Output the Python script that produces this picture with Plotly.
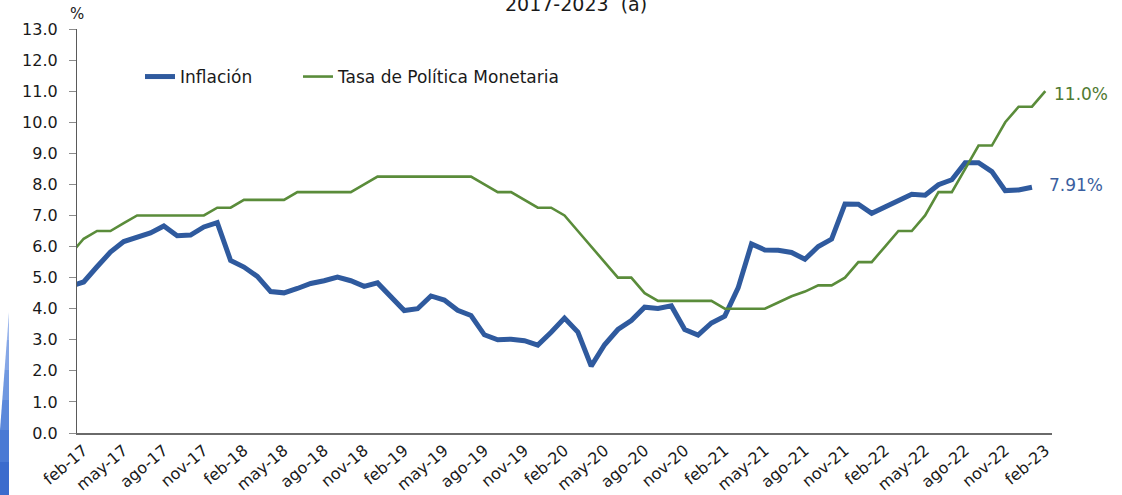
import plotly.graph_objects as go

# ---------------- data ----------------
meses = ["ene", "feb", "mar", "abr", "may", "jun", "jul", "ago", "sep", "oct", "nov", "dic"]
months = [f"{m}-{y}" for y in range(17, 24) for m in meses][:74]   # ene-17 .. feb-23

inflacion = [
    4.72, 4.86, 5.35, 5.82, 6.16, 6.31, 6.44, 6.66, 6.35, 6.37, 6.63, 6.77,
    5.55, 5.34, 5.04, 4.55, 4.51, 4.65, 4.81, 4.90, 5.02, 4.90, 4.72, 4.83,
    4.37, 3.94, 4.00, 4.41, 4.28, 3.95, 3.78, 3.16, 3.00, 3.02, 2.97, 2.83,
    3.24, 3.70, 3.25, 2.15, 2.84, 3.33, 3.62, 4.05, 4.01, 4.09, 3.33, 3.15,
    3.54, 3.76, 4.67, 6.08, 5.89, 5.88, 5.81, 5.59, 6.00, 6.24, 7.37, 7.36,
    7.07, 7.28, 7.45, 7.68, 7.65, 7.99, 8.15, 8.70, 8.70, 8.41, 7.80, 7.82,
    7.91,
]
tpm = [
    5.75, 6.25, 6.50, 6.50, 6.75, 7.00, 7.00, 7.00, 7.00, 7.00, 7.00, 7.25,
    7.25, 7.50, 7.50, 7.50, 7.50, 7.75, 7.75, 7.75, 7.75, 7.75, 8.00, 8.25,
    8.25, 8.25, 8.25, 8.25, 8.25, 8.25, 8.25, 8.00, 7.75, 7.75, 7.50, 7.25,
    7.25, 7.00, 6.50, 6.00, 5.50, 5.00, 5.00, 4.50, 4.25, 4.25, 4.25, 4.25,
    4.25, 4.00, 4.00, 4.00, 4.00, 4.20, 4.40, 4.55, 4.75, 4.75, 5.00, 5.50,
    5.50, 6.00, 6.50, 6.50, 7.00, 7.75, 7.75, 8.50, 9.25, 9.25, 10.00, 10.50,
    10.50, 11.00,
]
tick_labels = months[1::3]          # feb-17, may-17, ... feb-23
y_ticks = [float(v) for v in range(0, 14)]

series_names = ["Inflación", "Tasa de Política Monetaria"]
end_labels = ["7.91%", "11.0%"]

# ---------------- style ----------------
BLUE = "#2F5A9E"
GREEN = "#5A8C3A"
FONT = "DejaVu Sans"
W, H = 1122, 495
ML, MR, MT, MB = 77, 70, 29, 62
PW, PH = W - ML - MR, H - MT - MB


def px2paper(px, py):
    return (px - ML) / PW, (H - MB - py) / PH


fig = go.Figure()
fig.add_trace(go.Scatter(
    x=months[:len(inflacion)], y=inflacion, mode="lines", name=series_names[0],
    line=dict(color=BLUE, width=5), legend="legend",
))
fig.add_trace(go.Scatter(
    x=months[:len(tpm)], y=tpm, mode="lines", name=series_names[1],
    line=dict(color=GREEN, width=2.6), legend="legend2",
))

# end-of-series labels
fig.add_annotation(x=months[len(tpm) - 1], y=tpm[-1], text=end_labels[1],
                   showarrow=False, xanchor="left", xshift=7, yshift=-3,
                   font=dict(family=FONT, size=17, color="#4F7A32"))
fig.add_annotation(x=months[len(inflacion) - 1], y=inflacion[-1], text=end_labels[0],
                   showarrow=False, xanchor="left", xshift=15, yshift=2,
                   font=dict(family=FONT, size=17, color="#3A5FA0"))

# "%" unit label and (cropped) title
px_, py_ = px2paper(77, 14)
fig.add_annotation(xref="paper", yref="paper", x=px_, y=py_, text="%",
                   showarrow=False, xanchor="center", yanchor="middle",
                   font=dict(family=FONT, size=15, color="#1a1a1a"))
tx, ty = px2paper(576, 4)
fig.add_annotation(xref="paper", yref="paper", x=tx, y=ty, text="2017-2023  (a)",
                   showarrow=False, xanchor="center", yanchor="middle",
                   font=dict(family=FONT, size=19, color="#1a1a1a"))

# decorative blue wedge at the left edge (gradient approximated with bands)
bands = [(312, 340), (340, 370), (370, 400), (400, 430), (430, 462), (462, 495)]
cols = ["#9CB7EC", "#86A7E6", "#7098E0", "#5B88DA", "#4A7AD4", "#3B6CCD"]


def xl(y):
    return 9 - 9 * (y - 312) / (430 - 312) if y < 430 else 0


for (y0, y1), c in zip(bands, cols):
    pts = [(9, y0), (9, y1), (xl(y1), y1), (xl(y0), y0)]
    pp = [px2paper(a, b) for a, b in pts]
    path = "M " + " L ".join(f"{a:.5f},{b:.5f}" for a, b in pp) + " Z"
    fig.add_shape(type="path", xref="paper", yref="paper", path=path,
                  fillcolor=c, line=dict(width=0), layer="above")

lx1, ly = px2paper(140, 77)
lx2, _ = px2paper(298, 77)
legend_common = dict(orientation="h", yanchor="middle", xanchor="left",
                     bgcolor="rgba(0,0,0,0)", borderwidth=0,
                     font=dict(family=FONT, size=17, color="#1a1a1a"))

fig.update_layout(
    width=W, height=H,
    margin=dict(l=ML, r=MR, t=MT, b=MB, autoexpand=False),
    paper_bgcolor="white", plot_bgcolor="white",
    font=dict(family=FONT, size=15, color="#1a1a1a"),
    showlegend=True,
    legend=dict(x=lx1, y=ly, **legend_common),
    legend2=dict(x=lx2, y=ly, **legend_common),
    xaxis=dict(
        type="category", categoryorder="array", categoryarray=months,
        range=[0.5, 73.5], tickmode="array", tickvals=tick_labels, ticktext=tick_labels,
        tickangle=-40, showline=True, linecolor="#6A6A6A", linewidth=2,
        ticks="", showgrid=False, zeroline=False,
        tickfont=dict(family=FONT, size=16, color="#1a1a1a"),
    ),
    yaxis=dict(
        range=[0, 13], tickmode="array", tickvals=y_ticks,
        ticktext=[f"{v:.1f}" for v in y_ticks],
        showline=True, linecolor="#5A5A5A", linewidth=1.3,
        ticks="outside", ticklen=7, tickcolor="#8C8C8C", tickwidth=1,
        showgrid=False, zeroline=False, ticklabelstandoff=8,
        tickfont=dict(family=FONT, size=16, color="#1a1a1a"),
    ),
)

fig.write_html(
    "out.html",
    config={"displayModeBar": False},
    post_script="document.body.style.margin='0px';document.body.style.padding='0px';",
)
